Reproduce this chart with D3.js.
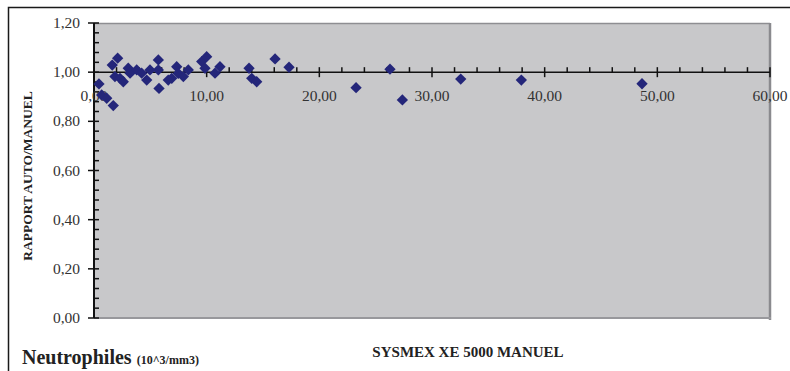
<!DOCTYPE html>
<html>
<head>
<meta charset="utf-8">
<script src="https://cdn.jsdelivr.net/npm/d3@7"></script>
<style>
  body { margin: 0; background: #fff; }
  text { font-family: "Liberation Serif", "Times New Roman", serif; }
</style>
</head>
<body>
<svg id="chart" width="790" height="371"></svg>
<script>
// values: manual count vs auto/manual ratio
var manuel = [0.44, 0.68, 1.13, 1.71, 1.62, 2.10, 1.86, 2.31, 2.60, 3.04,
  3.20, 3.79, 4.23, 4.68, 4.97, 5.71, 5.71, 5.77, 6.59, 6.90,
  7.34, 7.48, 7.93, 8.37, 9.56, 10.00, 9.85, 10.74, 11.18,
  13.76, 14.00, 14.44, 16.07, 17.31, 23.26, 26.27, 27.37,
  32.55, 37.93, 48.64];
var rapport = [0.952, 0.907, 0.894, 0.864, 1.029, 1.057, 0.982, 0.975, 0.961, 1.016,
  0.996, 1.009, 0.996, 0.968, 1.009, 1.050, 1.009, 0.934, 0.968, 0.975,
  1.022, 0.995, 0.982, 1.009, 1.043, 1.063, 1.016, 0.996, 1.022,
  1.016, 0.975, 0.961, 1.054, 1.020, 0.937, 1.012, 0.887,
  0.972, 0.968, 0.953];

var xTicks = [0, 10, 20, 30, 40, 50, 60];
var yTicks = [0, 0.2, 0.4, 0.6, 0.8, 1.0, 1.2];

var svg = d3.select('#chart');
var fmt = function(v){ return d3.format('.2f')(v).replace('.', ','); };

var pLeft = 94, pRight = 770, pTop = 23, pBottom = 318;
var x = d3.scaleLinear().domain([0, 60]).range([pLeft, pRight]);
var y = d3.scaleLinear().domain([0, 1.2]).range([pBottom, pTop]);

// outer frame
svg.append('rect')
  .attr('x', 8.5).attr('y', 7.5).attr('width', 800).attr('height', 400)
  .style('fill', 'none').style('stroke', '#1a1a1a').style('stroke-width', 1.5);

// plot area
svg.append('rect')
  .attr('x', pLeft).attr('y', pTop).attr('width', pRight - pLeft).attr('height', pBottom - pTop)
  .style('fill', '#c8c8ca');
svg.append('line')
  .attr('x1', pLeft).attr('x2', pRight).attr('y1', pTop + 0.5).attr('y2', pTop + 0.5)
  .style('stroke', '#8e8e92').style('stroke-width', 1.5);
svg.append('line')
  .attr('x1', pRight).attr('x2', pRight).attr('y1', pTop).attr('y2', pBottom + 2)
  .style('stroke', '#8a8a8e').style('stroke-width', 2.5);
svg.append('line')
  .attr('x1', pLeft).attr('x2', pRight + 1).attr('y1', pBottom).attr('y2', pBottom)
  .style('stroke', '#98989c').style('stroke-width', 2);

// y axis with minor ticks
var yAxis = svg.append('g');
yAxis.append('line')
  .attr('x1', pLeft).attr('x2', pLeft).attr('y1', pTop).attr('y2', pBottom)
  .style('stroke', '#111').style('stroke-width', 2);
d3.range(0, 1.2001, 0.04).forEach(function(v){
  var major = yTicks.some(function(t){ return Math.abs(t - v) < 1e-6; });
  yAxis.append('line')
    .attr('x1', major ? pLeft - 6 : pLeft).attr('x2', pLeft + 5)
    .attr('y1', y(v)).attr('y2', y(v))
    .style('stroke', '#111').style('stroke-width', 1.5);
});
yTicks.forEach(function(t){
  yAxis.append('text')
    .attr('x', 80).attr('y', y(t) + 5)
    .attr('text-anchor', 'end')
    .style('font-size', '15.5px').style('fill', '#333')
    .text(fmt(t));
});

// x axis crosses at 1,00
var xAxis = svg.append('g');
xAxis.append('line')
  .attr('x1', pLeft).attr('x2', pRight).attr('y1', y(1)).attr('y2', y(1))
  .style('stroke', '#111').style('stroke-width', 1.5);
d3.range(0, 60.001, 2).forEach(function(v){
  var major = Math.round(v) % 10 === 0;
  xAxis.append('line')
    .attr('x1', x(v)).attr('x2', x(v))
    .attr('y1', y(1) - 5).attr('y2', major ? y(1) + 5 : y(1))
    .style('stroke', '#111').style('stroke-width', 1.5);
});
xTicks.forEach(function(t){
  xAxis.append('text')
    .attr('x', x(t)).attr('y', y(1) + 29)
    .attr('text-anchor', 'middle')
    .style('font-size', '15.5px').style('fill', '#333')
    .text(fmt(t));
});

// points: square diamonds
var diamond = d3.symbol().type(d3.symbolSquare).size(64);
svg.append('g').selectAll('path')
  .data(manuel)
  .enter().append('path')
  .attr('d', diamond)
  .attr('transform', function(d, i){ return 'translate(' + x(d) + ',' + y(rapport[i]) + ') rotate(45)'; })
  .style('fill', '#24267a');

// titles
svg.append('text')
  .attr('transform', 'translate(32,176) rotate(-90)')
  .attr('text-anchor', 'middle')
  .style('font-size', '13.5px').style('font-weight', 'bold').style('fill', '#222')
  .text('RAPPORT AUTO/MANUEL');

svg.append('text')
  .attr('x', 468).attr('y', 357)
  .attr('text-anchor', 'middle')
  .style('font-size', '15px').style('font-weight', 'bold').style('fill', '#222')
  .text('SYSMEX XE 5000 MANUEL');

var t = svg.append('text')
  .attr('x', 22).attr('y', 364)
  .style('font-weight', 'bold').style('fill', '#222');
t.append('tspan').style('font-size', '20px').text('Neutrophiles ');
t.append('tspan').style('font-size', '12px').text('(10^3/mm3)');
</script>
</body>
</html>
